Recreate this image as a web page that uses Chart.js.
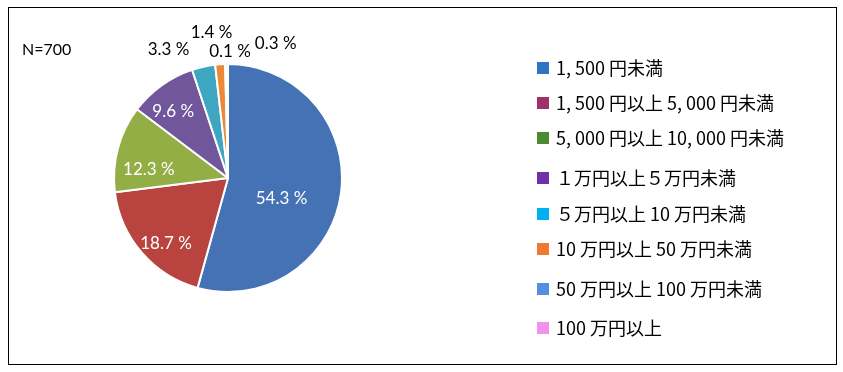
<!DOCTYPE html>
<html>
<head>
<meta charset="utf-8">
<script src="https://cdn.jsdelivr.net/npm/chart.js@4.4.1/dist/chart.umd.min.js"></script>
<style>
  html, body { margin: 0; padding: 0; background: #fff; }
  #wrap { width: 843px; height: 372px; position: relative; }
</style>
</head>
<body>
<div id="wrap"><canvas id="c" width="843" height="372"></canvas></div>
<script>
// ---- data ----
const categories = [
  "1, 500 円未満",
  "1, 500 円以上 5, 000 円未満",
  "5, 000 円以上 10, 000 円未満",
  "１万円以上５万円未満",
  "５万円以上 10 万円未満",
  "10 万円以上 50 万円未満",
  "50 万円以上 100 万円未満",
  "100 万円以上"
];
const shares = [54.3, 18.7, 12.3, 9.6, 3.3, 1.4, 0.1, 0.3];
const sampleNote = "N=700";

// ---- styles ----
const sliceColors = ["#4472B4", "#B8433F", "#93AE45", "#71569C", "#3FA6C2", "#EC883A", "#5B8FD0", "#F080F0"];
const legendColors = ["#2E74C0", "#A0306A", "#4E8A30", "#7030A8", "#00B0F0", "#F07830", "#5490E0", "#F290F0"];
const labelInside = [true, true, true, true, false, false, false, false];
const labelRadiusFactor = [0.5, 0.8, 0.7, 0.75, 1.2, 1.2, 1.2, 1.2];
const labelShift = [[-3, 13], [7, 6], [-2, 12], [-5, 3], [-30, 5], [-7, -9], [5, 10], [49, 2]];
const legendRowY = [68, 103, 138, 178, 214, 249, 289, 328];

const framePlugin = {
  id: 'frame',
  beforeDraw(chart) {
    const ctx = chart.ctx;
    ctx.save();
    ctx.fillStyle = '#ffffff';
    ctx.fillRect(0, 0, chart.width, chart.height);
    ctx.strokeStyle = '#000000';
    ctx.lineWidth = 1;
    ctx.strokeRect(8.5, 7.5, 828, 357);
    ctx.fillStyle = '#000';
    ctx.font = '16px Lato, "Open Sans", sans-serif';
    ctx.textBaseline = 'middle';
    ctx.textAlign = 'left';
    ctx.fillText(sampleNote, 22, 50);
    ctx.restore();
  }
};

const labelPlugin = {
  id: 'sliceLabels',
  afterDatasetsDraw(chart) {
    const ctx = chart.ctx;
    const meta = chart.getDatasetMeta(0);
    ctx.save();
    ctx.font = '17px Lato, "Open Sans", sans-serif';
    ctx.textAlign = 'center';
    ctx.textBaseline = 'middle';
    meta.data.forEach((arc, i) => {
      const p = arc.getProps(['x', 'y', 'startAngle', 'endAngle', 'outerRadius'], true);
      const mid = (p.startAngle + p.endAngle) / 2;
      const r = p.outerRadius * labelRadiusFactor[i];
      const x = p.x + Math.cos(mid) * r + labelShift[i][0];
      const y = p.y + Math.sin(mid) * r + labelShift[i][1];
      ctx.fillStyle = labelInside[i] ? '#ffffff' : '#000000';
      ctx.fillText(shares[i].toFixed(1) + ' %', x, y);
    });
    ctx.restore();
  }
};

const legendPlugin = {
  id: 'sideLegend',
  afterDraw(chart) {
    const ctx = chart.ctx;
    ctx.save();
    ctx.font = '18px "Noto Sans CJK JP", sans-serif';
    ctx.textAlign = 'left';
    ctx.textBaseline = 'middle';
    categories.forEach((label, i) => {
      const y = legendRowY[i];
      ctx.fillStyle = legendColors[i];
      ctx.fillRect(537, y - 6, 12, 12);
      ctx.fillStyle = '#000';
      ctx.fillText(label, 556, y);
    });
    ctx.restore();
  }
};

new Chart(document.getElementById('c'), {
  type: 'pie',
  data: {
    labels: categories,
    datasets: [{
      data: shares,
      backgroundColor: sliceColors,
      borderColor: '#ffffff',
      borderWidth: 2,
      radius: 114
    }]
  },
  options: {
    responsive: false,
    animation: false,
    layout: { padding: { left: 100, right: 487, top: 50, bottom: 66 } },
    plugins: {
      legend: { display: false },
      tooltip: { enabled: false }
    }
  },
  plugins: [framePlugin, labelPlugin, legendPlugin]
});
</script>
</body>
</html>
